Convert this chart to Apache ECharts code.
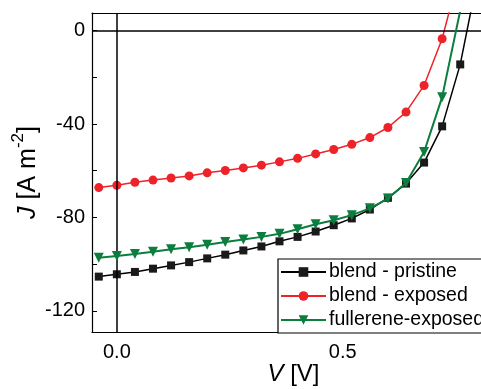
<!DOCTYPE html>
<html>
<head>
<meta charset="utf-8">
<script src="https://cdn.jsdelivr.net/npm/echarts@6/dist/echarts.min.js"></script>
<style>html,body{margin:0;padding:0;background:#fff}#c{width:481px;height:389px}</style>
</head>
<body>
<div id="c"></div>
<script>
const voltage = [-0.04, 0, 0.04, 0.08, 0.12, 0.16, 0.20, 0.24, 0.28, 0.32, 0.36, 0.40, 0.44, 0.48, 0.52, 0.56, 0.60, 0.64, 0.68, 0.72, 0.76, 0.80];
const blendPristine = [-105.3, -104.3, -103.3, -101.9, -100.5, -99.1, -97.5, -95.9, -94.1, -92.4, -90.2, -88.3, -86.0, -83.3, -80.4, -76.6, -71.6, -65.5, -56.5, -41.0, -14.5, 24.0];
const blendExposed = [-67.2, -66.2, -64.9, -64.0, -63.1, -62.2, -60.9, -59.9, -58.8, -57.6, -56.2, -54.7, -52.8, -50.9, -48.7, -45.8, -41.5, -34.9, -23.5, -3.5, 26.0];
const fullereneExposed = [-97.2, -96.5, -95.6, -94.7, -93.6, -92.7, -91.7, -90.5, -89.4, -88.3, -87.0, -85.0, -82.9, -81.2, -79.0, -76.1, -71.9, -65.2, -52.0, -28.5, 8.5];
const seriesNames = ['blend - pristine', 'blend - exposed', 'fullerene-exposed'];
const yTickValues = [-120, -100, -80, -60, -40, -20, 0];
const yLabelValues = [-120, -80, -40, 0];
const xLabelValues = [0, 0.5];

function pairs(ys) { return ys.map((y, i) => [voltage[i], y]); }

const chart = echarts.init(document.getElementById('c'), null, {renderer: 'canvas'});
const font = 'Liberation Sans, Arial, Helvetica, sans-serif';
const xMin = -0.055, xMax = 0.806;
chart.setOption({
  animation: false,
  backgroundColor: '#fff',
  grid: {left: 92, top: 13, right: 0, height: 319, show: false, containLabel: false, outerBoundsMode: 'none'},
  xAxis: [{
    type: 'value', min: xMin, max: xMax,
    name: '{i|V} [V]', nameLocation: 'middle', nameGap: 30, nameMoveOverlap: false,
    nameTextStyle: {fontSize: 24, color: '#000', fontFamily: font, padding: [0, 0, 0, 14], rich: {i: {fontSize: 24, fontStyle: 'italic', fontFamily: font, color: '#000'}}},
    axisLine: {show: true, onZero: false, lineStyle: {color: '#000', width: 1.2}},
    axisTick: {show: false},
    splitLine: {show: false},
    axisLabel: {customValues: xLabelValues, color: '#000', fontSize: 20, fontFamily: font, margin: 10, formatter: v => v.toFixed(1)}
  }, {
    type: 'value', min: xMin, max: xMax, position: 'top',
    axisLine: {show: true, onZero: false, lineStyle: {color: '#000', width: 1.2}},
    axisTick: {show: false}, axisLabel: {show: false}, splitLine: {show: false}
  }],
  yAxis: {
    type: 'value', min: -129, max: 7.5,
    name: '{i|J} [A m{s|-2}]', nameLocation: 'middle', nameGap: 46, nameMoveOverlap: false,
    nameTextStyle: {fontSize: 25, lineHeight: 36, color: '#000', fontFamily: font,
      rich: {i: {fontSize: 25, lineHeight: 36, fontStyle: 'italic', fontFamily: font, color: '#000'},
             s: {fontSize: 17, lineHeight: 17, fontFamily: font, color: '#000', verticalAlign: 'top'}}},
    axisLine: {show: true, onZero: false, lineStyle: {color: '#000', width: 1.2}},
    axisTick: {show: true, inside: true, length: 5, customValues: yTickValues, lineStyle: {color: '#000', width: 1}},
    splitLine: {show: false},
    axisLabel: {customValues: yLabelValues, color: '#000', fontSize: 20, fontFamily: font, margin: 7}
  },
  legend: {
    data: seriesNames, orient: 'vertical', left: 278, top: 259,
    backgroundColor: '#fff', borderColor: '#000', borderWidth: 1.2, borderRadius: 0,
    padding: [3, 4, 3, 2], itemGap: 4, itemWidth: 45, itemHeight: 12,
    textStyle: {fontSize: 19.5, color: '#000', fontFamily: font, padding: [0, 0, 0, -2]}
  },
  series: [
    {name: seriesNames[0], type: 'line', data: pairs(blendPristine), symbol: 'rect', symbolSize: 8,
     itemStyle: {color: '#1a1a1a'}, lineStyle: {color: '#000', width: 1.5}, z: 3,
     markLine: {silent: true, symbol: 'none', label: {show: false}, lineStyle: {color: '#000', width: 1.5, type: 'solid'},
       data: [{yAxis: 0}, {xAxis: 0}]}},
    {name: seriesNames[1], type: 'line', data: pairs(blendExposed), symbol: 'circle', symbolSize: 9,
     itemStyle: {color: '#ee2229'}, lineStyle: {color: '#ee2229', width: 1.5}, z: 4},
    {name: seriesNames[2], type: 'line', data: pairs(fullereneExposed), symbol: 'triangle', symbolRotate: 180, symbolSize: 10,
     itemStyle: {color: '#0b7d3e'}, lineStyle: {color: '#0b7d3e', width: 2}, z: 5}
  ]
});
</script>
</body>
</html>
